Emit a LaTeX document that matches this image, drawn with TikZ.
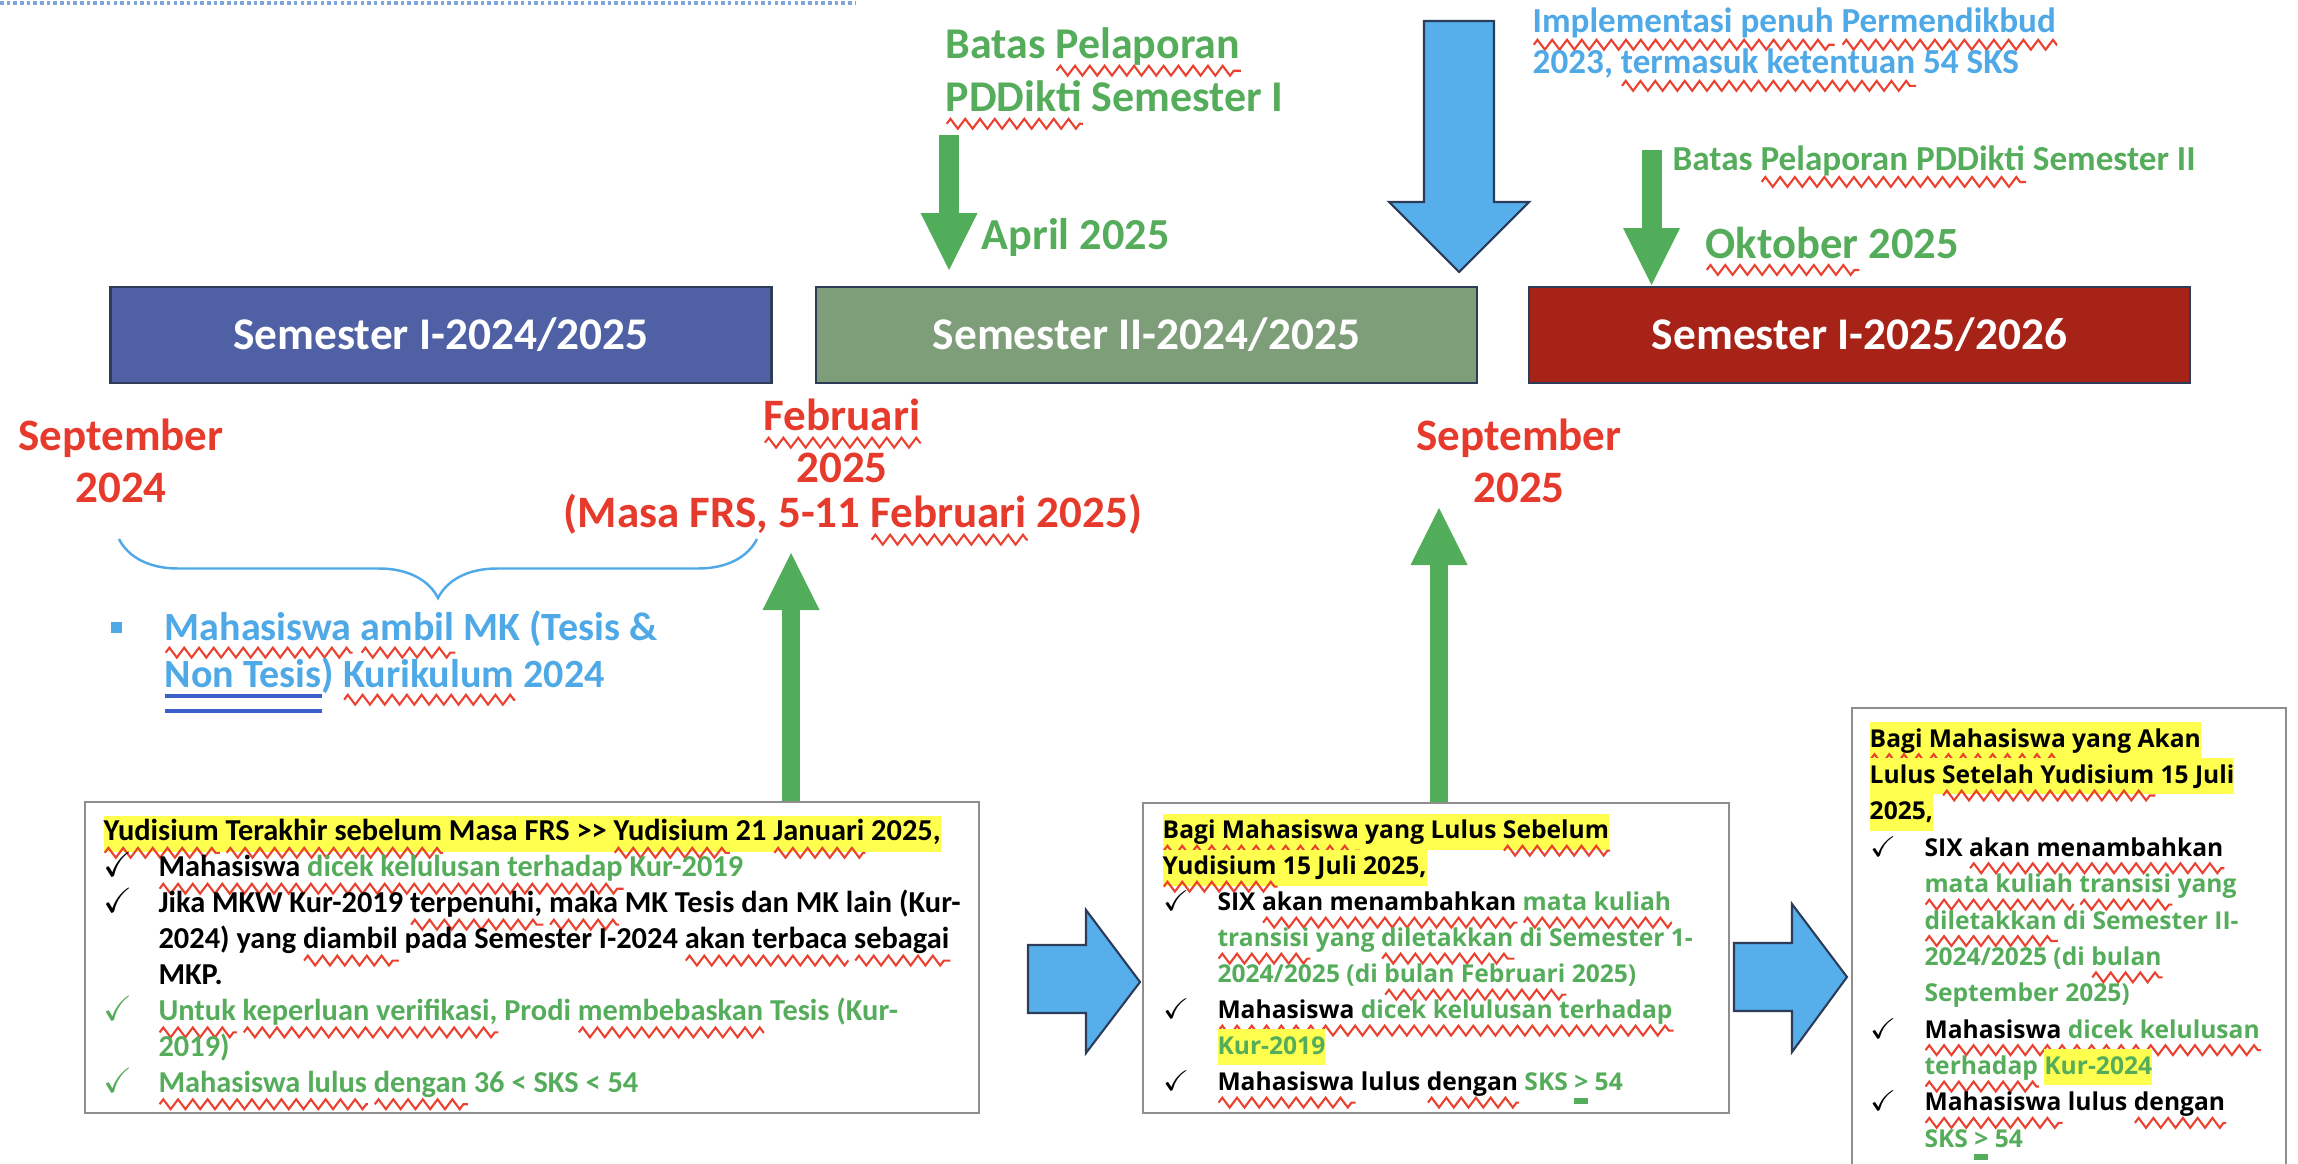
\documentclass[tikz,border=0pt]{standalone}
\usepackage{fontspec}
\setmainfont{Carlito}
\newfontfamily\osans{Open Sans}
\usepackage{amssymb}
\usetikzlibrary{arrows.meta,decorations.pathmorphing,decorations.pathreplacing}

\definecolor{semI}{HTML}{4F61A4}
\definecolor{semII}{HTML}{7D9E78}
\definecolor{semIII}{HTML}{A72318}
\definecolor{semline}{HTML}{2F3B57}
\definecolor{argreen}{HTML}{52AD5A}
\definecolor{tgreen}{HTML}{55AD5C}
\definecolor{dred}{HTML}{E63A2C}
\definecolor{ltblue}{HTML}{4FA9E6}
\definecolor{arblue}{HTML}{56AEEA}
\definecolor{arline}{HTML}{2C3C5A}
\definecolor{lnkblue}{HTML}{3D5FC9}
\definecolor{hlyel}{HTML}{FFFF4F}
\definecolor{boxgray}{HTML}{8E8E8E}
\definecolor{spell}{HTML}{EA4130}
\definecolor{dotblue}{HTML}{7FA6DB}

\lineskiplimit=-100pt

\tikzset{
  sembox/.style={draw=semline, line width=0.8pt, minimum width=6.61cm, minimum height=0.96cm,
    text=white, font=\bfseries\fontsize{12.9}{15}\selectfont},
  notebox/.style={draw=boxgray, line width=0.6pt},
  greenarr/.style={draw=argreen, line width=0.2cm, -{Triangle[length=0.57cm,width=0.57cm,line width=0pt]}},
  bluearr/.style={fill=arblue, draw=arline, line width=0.6pt, line join=miter},
  glbl/.style={text=tgreen, inner sep=0pt, align=left},
  blbl/.style={text=ltblue, inner sep=0pt, align=left},
  rlbl/.style={text=dred, inner sep=0pt, align=center, font=\bfseries\fontsize{12.8}{14.8}\selectfont},
  notetxt/.style={anchor=north west, inner sep=0pt, align=left},
  bracebl/.style={draw=ltblue, line width=0.7pt, decorate, decoration={brace, mirror, amplitude=0.59cm}},
  squig/.style={draw=spell, line width=0.6pt, decorate, decoration={zigzag, segment length=4.2pt, amplitude=1.4pt}},
  dotline/.style={draw=dotblue, line width=1.1pt, dash pattern=on 1pt off 0.9pt}
}

% spelling squiggle, highlight, check mark
\newlength\sqwd
\newcommand\sq[1]{\settowidth\sqwd{#1}\smash{\rlap{\tikz[baseline=0pt]\path[squig] (0pt,-3.4pt) -- (\sqwd,-3.4pt);}}#1}
\newcommand\hl[1]{{\setlength\fboxsep{0pt}\colorbox{hlyel}{\strut#1}}}
\newcommand\ck{\makebox[15.6pt][l]{\scalebox{1.15}{$\checkmark$}}}
\newcommand\ind{\hspace*{15.6pt}}
\newcommand\ugt{\settowidth\sqwd{>}\rlap{\rule[-3.7pt]{\sqwd}{1.7pt}}>}
\newcommand\dul[1]{\settowidth\sqwd{#1}\smash{\rlap{\color{lnkblue}\rule[-2.85pt]{\sqwd}{1.15pt}}\rlap{\color{lnkblue}\rule[-7.1pt]{\sqwd}{1.15pt}}}#1}

\begin{document}
\begin{tikzpicture}
	\useasboundingbox (0,0) rectangle (22.98,-11.63);
	\clip (0,0) rectangle (22.98,-11.63);

	\draw[dotline] (0,-0.03) -- (8.55,-0.03);

	% semester bars
	\node[sembox, fill=semI] (sem1) at (4.41,-3.35) {Semester I-2024/2025};
	\node[sembox, fill=semII] (sem2) at (11.465,-3.35) {Semester II-2024/2025};
	\node[sembox, fill=semIII] (sem3) at (18.595,-3.35) {Semester I-2025/2026};

	% deadlines above the bars
	\node[glbl, anchor=north west, font=\bfseries\fontsize{12.5}{15.1}\selectfont] (lapor1) at (9.45,-0.209) {\strut Batas \sq{Pelaporan}\\\sq{PDDikti} Semester I};
	\node[glbl, anchor=base west, font=\bfseries\fontsize{12.6}{15}\selectfont] (april) at (9.81,-2.49) {April 2025};
	\coordinate (a1s) at (9.49,-1.35);
	\coordinate (a1e) at (9.49,-2.70);
	\draw[greenarr] (a1s) -- (a1e);

	\draw[bluearr] (14.24,-0.21) -- (14.94,-0.21) -- (14.94,-2.02) -- (15.29,-2.02) -- (14.59,-2.72) -- (13.89,-2.02) -- (14.24,-2.02) -- cycle;
	\node[blbl, anchor=north west, font=\bfseries\fontsize{10}{11.7}\selectfont] (impl) at (15.32,-0.033) {\strut\sq{Implementasi penuh} \sq{Permendikbud}\\2023, \sq{termasuk ketentuan} 54 SKS};

	\node[glbl, anchor=base west, font=\bfseries\fontsize{10}{12}\selectfont] (lapor2) at (16.72,-1.70) {Batas \sq{Pelaporan PDDikti} Semester II};
	\node[glbl, anchor=base west, font=\bfseries\fontsize{12.7}{15}\selectfont] (okt) at (17.05,-2.58) {\sq{Oktober} 2025};
	\coordinate (a2s) at (16.515,-1.50);
	\coordinate (a2e) at (16.515,-2.85);
	\draw[greenarr] (a2s) -- (a2e);

	% dates below the bars
	\node[rlbl, anchor=north] (sep24) at (1.21,-4.136) {\strut September\\2024};
	\node[rlbl, anchor=north] (feb25) at (8.42,-3.936) {\strut\sq{Februari}\\2025\\[-2pt]\hspace*{0.22cm}(Masa FRS, 5-11 \sq{Februari} 2025)};
	\node[rlbl, anchor=north] (sep25) at (15.19,-4.136) {\strut September\\2025};

	\draw[bracebl] (1.19,-5.39) -- (7.57,-5.39);
	\node[fill=ltblue, minimum size=0.11cm, inner sep=0pt] (bul) at (1.165,-6.275) {};
	\node[blbl, anchor=north west, font=\bfseries\fontsize{11.4}{13.4}\selectfont] (mkblue) at (1.64,-6.07) {\strut\sq{Mahasiswa} \sq{ambil} MK (Tesis \&\\\dul{Non Tesis}) \sq{Kurikulum} 2024};

	% note boxes
	\node[notebox, minimum width=8.94cm, minimum height=3.11cm] (boxA) at (5.32,-9.575) {};
	\node[notebox, minimum width=5.86cm, minimum height=3.10cm] (boxB) at (14.36,-9.58) {};
	\node[notebox, minimum width=4.34cm, minimum height=4.72cm] (boxC) at (20.69,-9.44) {};

	\node[notetxt, font=\bfseries\fontsize{8.65}{10.22}\selectfont] (txtA) at (1.03,-8.15) {%
		\hl{\sq{Yudisium} \sq{Terakhir sebelum} Masa FRS >{}> \sq{Yudisium} 21 \sq{Januari} 2025,}\\
		\ck\sq{Mahasiswa \textcolor{tgreen}{dicek kelulusan terhadap}} \textcolor{tgreen}{Kur-2019}\\
		\ck Jika MKW Kur-2019 \sq{terpenuhi,} \sq{maka} MK Tesis dan MK lain (Kur-\\
		\ind 2024) yang \sq{diambil} pada Semester I-2024 \sq{akan terbaca} \sq{sebagai}\\
		\ind MKP.\\
		{\color{tgreen}\ck\sq{Untuk} \sq{keperluan verifikasi,} Prodi \sq{membebaskan} Tesis (Kur-}\\
		\ind\textcolor{tgreen}{2019)}\\
		{\color{tgreen}\ck\sq{Mahasiswa lulus} \sq{dengan} 36 < SKS < 54}};

	\node[notetxt, font=\osans\bfseries\fontsize{7}{10.24}\selectfont] (txtB) at (11.62,-8.128) {%
		\hl{\sq{Bagi} \sq{Mahasiswa} yang Lulus \sq{Sebelum}}\\
		\hl{\sq{Yudisium} 15 Juli 2025,}\\
		\ck SIX \sq{akan menambahkan} \textcolor{tgreen}{\sq{mata kuliah}}\\
		\ind\textcolor{tgreen}{\sq{transisi} yang \sq{diletakkan} di Semester 1-}\\
		\ind\textcolor{tgreen}{2024/2025 (di \sq{bulan Februari} 2025)}\\
		\ck\sq{Mahasiswa \textcolor{tgreen}{dicek kelulusan terhadap}}\\
		\ind\hl{\textcolor{tgreen}{Kur-2019}}\\
		\ck\sq{Mahasiswa} lulus \sq{dengan} \textcolor{tgreen}{SKS \ugt{} 54}};

	\node[notetxt, font=\osans\bfseries\fontsize{7}{10.35}\selectfont] (txtC) at (18.69,-7.21) {%
		\hl{\sq{Bagi} \sq{Mahasiswa} yang Akan}\\
		\hl{Lulus \sq{Setelah Yudisium} 15 Juli}\\
		\hl{2025,}\\
		\ck SIX \sq{akan menambahkan}\\
		\ind\textcolor{tgreen}{\sq{mata kuliah} \sq{transisi} yang}\\
		\ind\textcolor{tgreen}{\sq{diletakkan} di Semester II-}\\
		\ind\textcolor{tgreen}{2024/2025 (di \sq{bulan}}\\
		\ind\textcolor{tgreen}{September 2025)}\\
		\ck\sq{Mahasiswa \textcolor{tgreen}{dicek kelulusan}}\\
		\ind\textcolor{tgreen}{\sq{terhadap} \hl{Kur-2024}}\\
		\ck\sq{Mahasiswa} lulus \sq{dengan}\\
		\ind\textcolor{tgreen}{SKS \ugt{} 54}};

	% arrows from the note boxes
	\coordinate (upA) at (7.91,-5.53);
	\coordinate (upB) at (14.39,-5.08);
	\draw[greenarr, line width=0.18cm] (upA |- boxA.north) -- (upA);
	\draw[greenarr, line width=0.18cm] (upB |- boxB.north) -- (upB);

	\draw[bluearr] (10.28,-9.45) -- (10.86,-9.45) -- (10.86,-9.10) -- (11.40,-9.82) -- (10.86,-10.53) -- (10.86,-10.13) -- (10.28,-10.13) -- cycle;
	\draw[bluearr] (17.34,-9.43) -- (17.92,-9.43) -- (17.92,-9.04) -- (18.47,-9.77) -- (17.92,-10.52) -- (17.92,-10.11) -- (17.34,-10.11) -- cycle;

\end{tikzpicture}
\end{document}
